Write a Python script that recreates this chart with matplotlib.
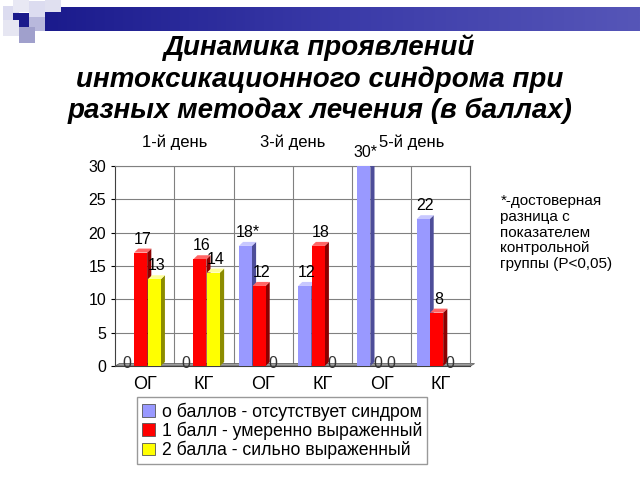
import matplotlib
matplotlib.use("Agg")
from matplotlib import pyplot as plt
from matplotlib.patches import Polygon, Rectangle
import numpy as np

plt.rcParams["font.family"] = ["Liberation Sans", "DejaVu Sans"]

groups = ["ОГ", "КГ", "ОГ", "КГ", "ОГ", "КГ"]
days = ["1-й день", "3-й день", "5-й день"]
score0 = [0, 0, 18, 12, 30, 22]
score1 = [17, 16, 12, 18, 0, 8]
score2 = [13, 14, 0, 0, 0, 0]
labels0 = ["0", "0", "18*", "12", "30*", "22"]
labels1 = ["17", "16", "12", "18", "0", "8"]
labels2 = ["13", "14", "0", "0", "0", "0"]
series_names = ["о баллов - отсутствует синдром",
                "1 балл - умеренно выраженный",
                "2 балла - сильно выраженный"]
title = "Динамика проявлений\nинтоксикационного синдрома при\nразных методах лечения (в баллах)"
note = "*-достоверная\nразница с\nпоказателем\nконтрольной\nгруппы (P<0,05)"

front = ["#9999ff", "#ff0000", "#ffff00"]
side = ["#4d4d99", "#8c0000", "#8c8c00"]
top = ["#c8c8ff", "#ff6666", "#ffff99"]

fig = plt.figure(figsize=(6.4, 4.8), dpi=100)

# decorative header band
band = fig.add_axes([0.06, 0.935, 0.94, 0.05])
grad = np.linspace(0, 1, 256).reshape(1, -1)
band.imshow(grad, aspect="auto", cmap=matplotlib.colors.LinearSegmentedColormap.from_list(
    "b", ["#1a1a8c", "#3a3aa8", "#5656b8"]))
band.axis("off")
for (x, y, c) in [(0.005, 0.955, "#dcdcf0"), (0.02, 0.94, "#1a1a8c"), (0.045, 0.935, "#b8b8dc"),
                  (0.045, 0.965, "#dcdcf0"), (0.02, 0.975, "#e8e8f4"), (0.07, 0.975, "#e0e0f0"),
                  (0.03, 0.91, "#a0a0cc"), (0.005, 0.925, "#e6e6f2")]:
    fig.patches.append(Rectangle((x, y), 0.025, 0.033, transform=fig.transFigure,
                                 facecolor=c, edgecolor="none"))

fig.text(0.5, 0.835, title, ha="center", va="center", fontsize=20,
         fontweight="bold", fontstyle="italic", linespacing=1.22)

ax = fig.add_axes([0.18, 0.2375, 0.555, 0.417])
n = len(groups)
x = np.arange(n)
width = 0.22
offsets = [-0.3, -0.07, 0.16]
dx, dy = 0.07, 0.6

for k, (vals, labs) in enumerate(zip([score0, score1, score2], [labels0, labels1, labels2])):
    for i, v in enumerate(vals):
        xl = x[i] + offsets[k] - width / 2
        if v > 0:
            ax.add_patch(Polygon([(xl + width, 0), (xl + width + dx, dy), (xl + width + dx, v + dy),
                                  (xl + width, v)], facecolor=side[k], edgecolor="none", zorder=3))
            ax.add_patch(Polygon([(xl, v), (xl + dx, v + dy), (xl + width + dx, v + dy),
                                  (xl + width, v)], facecolor=top[k], edgecolor="none", zorder=3))
            ax.bar(xl, v, width, align="edge", color=front[k], zorder=3)
            ax.text(xl + width / 2 + dx / 2, v + dy + 0.3, labs[i], ha="center", va="bottom",
                    fontsize=11.5, zorder=5)
        else:
            ax.text(xl + width / 2, 0.4, labs[i], ha="center", va="center",
                    fontsize=11.5, color="#333333", zorder=5)

# floor
ax.add_patch(Polygon([(-0.5, 0), (-0.5 + dx, dy * 0.6), (n - 0.5 + dx, dy * 0.6), (n - 0.5, 0)],
                     facecolor="#a0a0a0", edgecolor="#606060", lw=0.6, zorder=2, clip_on=False))

ax.set_xlim(-0.5, n - 0.5)
ax.set_ylim(0, 30)
ax.set_yticks(range(0, 31, 5))
ax.set_xticks(x)
ax.set_xticklabels(groups, fontsize=13)
ax.tick_params(axis="x", length=0, pad=7)
ax.tick_params(axis="y", labelsize=11.5, length=3)
for yv in range(5, 31, 5):
    ax.axhline(yv, color="#808080", lw=0.8, zorder=1)
for xv in np.arange(0.5, n - 0.5, 1.0):
    ax.axvline(xv, color="#808080", lw=0.8, zorder=1)
for s in ["top", "right"]:
    ax.spines[s].set_color("#808080")
    ax.spines[s].set_linewidth(0.8)
ax.spines["left"].set_color("#404040")
ax.spines["bottom"].set_color("#404040")

for j, d in enumerate(days):
    ax.text(2 * j + 0.5, 1.08, d, transform=ax.get_xaxis_transform(), ha="center",
            va="bottom", fontsize=12)

handles = [Rectangle((0, 0), 1, 1, facecolor=c, edgecolor="#555555", lw=0.6) for c in front]
fig.legend(handles, series_names, loc="center", bbox_to_anchor=(0.441, 0.103),
           fontsize=12.7, frameon=True, fancybox=False, edgecolor="#808080",
           handlelength=0.7, handleheight=0.7, handletextpad=0.4, labelspacing=0.05,
           borderpad=0.3)

fig.text(0.782, 0.595, note, ha="left", va="top", fontsize=11, linespacing=1.15)

fig.savefig("out.png", dpi=100)
